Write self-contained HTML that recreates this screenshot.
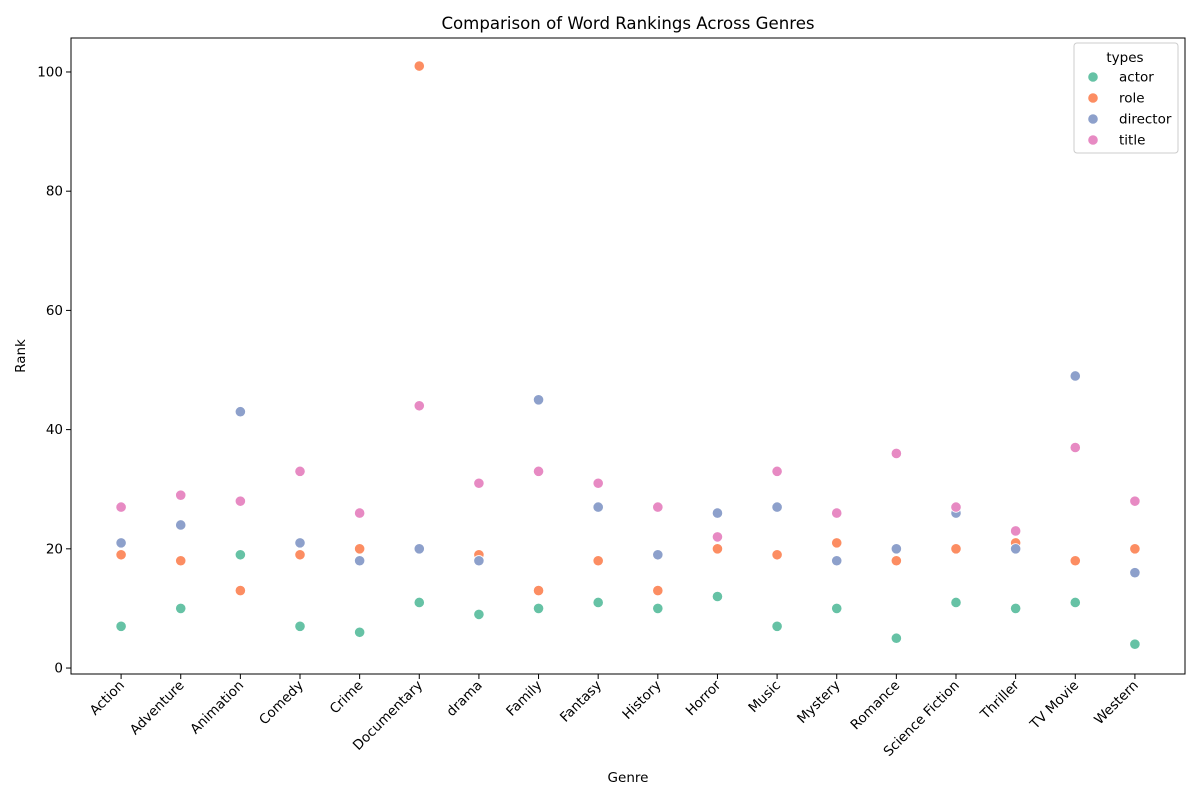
<!DOCTYPE html>
<html><head><meta charset="utf-8"><style>
body{margin:0;background:#fff;font-family:"DejaVu Sans","Liberation Sans",sans-serif}
svg text{font-family:"DejaVu Sans","Liberation Sans",sans-serif;fill:#000}
</style></head><body>
<svg id="chart" width="1200" height="800">
<rect x="0" y="0" width="1200" height="800" fill="#fff"/>
<text x="628" y="29" font-size="16.6" text-anchor="middle">Comparison of Word Rankings Across Genres</text>
<g id="axes"></g>
<g id="marks"></g>
<rect x="71" y="38" width="1114" height="636" fill="none" stroke="#000" stroke-width="1"/>
<text x="628" y="782" font-size="13.5" text-anchor="middle">Genre</text>
<text x="25" y="356" font-size="13.5" text-anchor="middle" transform="rotate(-90 25 356)">Rank</text>
<g id="legend">
<rect x="1074" y="43" width="104" height="110" rx="3" fill="#fff" fill-opacity="0.8" stroke="#ccc"/>
<text x="1125" y="62" font-size="13.5" text-anchor="middle">types</text>
</g>
</svg>
<script>
const categories=["Action","Adventure","Animation","Comedy","Crime","Documentary","drama","Family","Fantasy","History","Horror","Music","Mystery","Romance","Science Fiction","Thriller","TV Movie","Western"];
const actor=[7,10,19,7,6,11,9,10,11,10,12,7,10,5,11,10,11,4];
const role=[19,18,13,19,20,101,19,13,18,13,20,19,21,18,20,21,18,20];
const director=[21,24,43,21,18,20,18,45,27,19,26,27,18,20,26,20,49,16];
const title=[27,29,28,33,26,44,31,33,31,27,22,33,26,36,27,23,37,28];
const seriesNames=["actor","role","director","title"];
const yTicks=[0,20,40,60,80,100];
const colors=["#66c2a5","#fc8d62","#8da0cb","#e78ac3"];
const NS="http://www.w3.org/2000/svg";
const L=71,R=1185,T=38,B=674;
const xMin=-0.84,xMax=categories.length-1+0.84,yMin=-1.0,yMax=105.7;
function xs(i){return L+(i-xMin)/(xMax-xMin)*(R-L);}
function ys(v){return B-(v-yMin)/(yMax-yMin)*(B-T);}
function mk(tag,attrs,parent){const e=document.createElementNS(NS,tag);for(const k in attrs)e.setAttribute(k,attrs[k]);parent.appendChild(e);return e;}
const axes=document.getElementById('axes'),marks=document.getElementById('marks'),legend=document.getElementById('legend');
yTicks.forEach(t=>{const y=ys(t);
 const l=mk('line',{x1:L-5,x2:L,y1:y,y2:y,stroke:'#000'},axes);
 
 
 const tx=mk('text',{x:L-8,y:y+4.5,'font-size':13.5,'text-anchor':'end'},axes);tx.textContent=t;
 
 
});
categories.forEach((c,i)=>{const x=xs(i);
 const l=mk('line',{x1:x,x2:x,y1:B,y2:B+5,stroke:'#000'},axes);
 
 
 const tx=mk('text',{x:x+4,y:B+12,'font-size':13.5,'text-anchor':'end',transform:`rotate(-45 ${x+4} ${B+12})`},axes);tx.textContent=c;
 
 
});
const all=[actor,role,director,title];
all.forEach((arr,s)=>{arr.forEach((v,i)=>{
 const c=mk('circle',{cx:xs(i),cy:ys(v),r:5.2,fill:colors[s],stroke:'#fff','stroke-width':0.8},marks);
 
 
});});
seriesNames.forEach((n,s)=>{const y=77+s*21;
 const c=mk('circle',{cx:1093,cy:y,r:5.2,fill:colors[s],stroke:'#fff','stroke-width':0.8},legend);
 
 
 const t=mk('text',{x:1119,y:y+4.5,'font-size':13.5},legend);t.textContent=n;
 
 
});
</script>
</body></html>
